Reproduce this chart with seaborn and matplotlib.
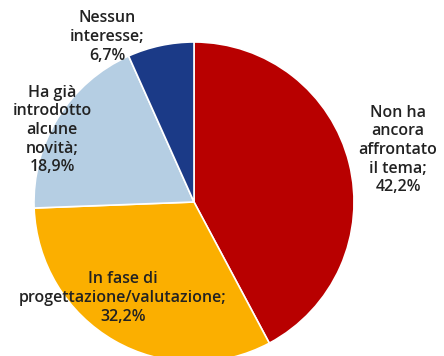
import matplotlib
matplotlib.use("Agg")
import matplotlib.pyplot as plt
import seaborn as sns

# Dati
categorie = ["Non ha\nancora\naffrontato\nil tema",
             "In fase di\nprogettazione/valutazione",
             "Ha già\nintrodotto\nalcune\nnovità",
             "Nessun\ninteresse"]
valori = [42.2, 32.2, 18.9, 6.7]
colori = ["#B80000", "#FBAF00", "#B5CEE3", "#1B3A87"]

# posizioni delle etichette (pixel, origine in basso a sinistra)
pos_etichette = [(398, 206), (123, 58), (52, 226), (107, 319)]

sns.set_theme(style="white")
plt.rcParams['font.family'] = ['Open Sans', 'DejaVu Sans']

fig = plt.figure(figsize=(4.44, 3.56), dpi=100)
ax = fig.add_axes([0, 0, 1, 1])

ax.pie(valori, colors=colori, startangle=90, counterclock=False,
       center=(194, 154), radius=160, frame=True,
       wedgeprops=dict(edgecolor='white', linewidth=1.2))
ax.set_xlim(0, 444)
ax.set_ylim(0, 356)
ax.set_aspect('equal')
ax.axis('off')

for cat, val, (x, y) in zip(categorie, valori, pos_etichette):
    testo = f"{cat};\n{val:.1f}%".replace('.', ',')
    ax.text(x, y, testo, ha='center', va='center', fontsize=11.5,
            fontweight='semibold', color='#222222', linespacing=1.22)

fig.savefig("out.png", dpi=100)
